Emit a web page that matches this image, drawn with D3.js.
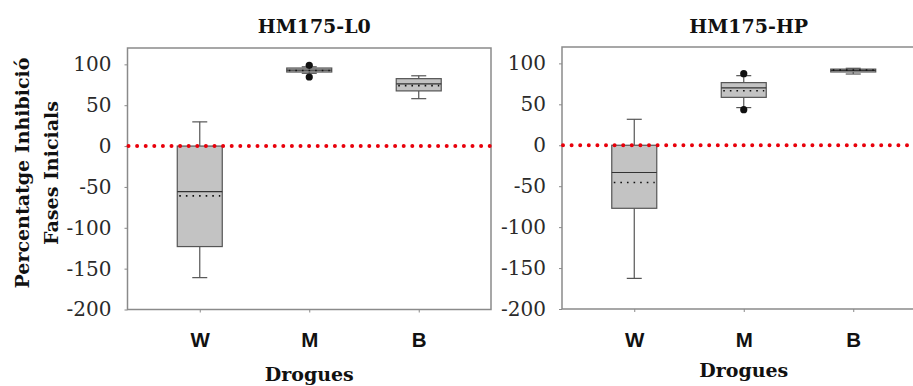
<!DOCTYPE html>
<html>
<head>
<meta charset="utf-8">
<script src="https://cdn.jsdelivr.net/npm/d3@7"></script>
<style>
html,body{margin:0;padding:0;background:#fff;}
svg{display:block;}
</style>
</head>
<body>
<script>
// ---- data ----
const categories = ["W", "M", "B"];
const panelTitles = ["HM175-L0", "HM175-HP"];
const yTicks = [100, 50, 0, -50, -100, -150, -200];
const yAxisTitle = ["Percentatge Inhibició", "Fases Inicials"];
const xAxisTitle = "Drogues";

// HM175-L0
const l0Q1 = [-123, 90.6, 67.5];
const l0Q3 = [0, 95.5, 82.5];
const l0Median = [-55.7, 93, 76];
const l0Mean = [-61, 92.5, 74];
const l0WhiskerLow = [-161, 89, 58];
const l0WhiskerHigh = [29.6, 97, 86];
const l0Outliers = [[], [98.8, 84.5], []];

// HM175-HP
const hpQ1 = [-77, 58.5, 89.5];
const hpQ3 = [0, 76.5, 93];
const hpMedian = [-33.3, 70, 91.5];
const hpMean = [-45.5, 66.5, 92];
const hpWhiskerLow = [-162.6, 46, 87];
const hpWhiskerHigh = [31.7, 85, 94];
const hpOutliers = [[], [87.4, 43.5], []];

const W = 913, H = 386;
const svg = d3.select("body").append("svg").attr("width", W).attr("height", H);

const serif = "'DejaVu Serif', serif";
const sans = "'Liberation Sans', Arial, sans-serif";

function drawPanel(opt) {
  const {x0, x1, y0, y1, title, q1, q3, med, mean, lo, hi, outl, dropY} = opt;
  const g = svg.append("g");
  const x = d3.scalePoint().domain(categories).range([x0, x1]).padding(0.66);
  const y = d3.scaleLinear().domain([-200, 120]).range([y1, y0]);

  // frame
  g.append("rect").attr("x", x0).attr("y", y0).attr("width", x1 - x0).attr("height", y1 - y0)
    .attr("fill", "none").attr("stroke", "#8a8a8a").attr("stroke-width", 1.5);

  // y axis
  const ya = g.append("g").attr("transform", `translate(${x0},0)`)
    .call(d3.axisLeft(y).tickValues(yTicks).tickSize(3).tickPadding(13).tickFormat(d3.format("d")));
  ya.select(".domain").remove();
  ya.selectAll(".tick line").attr("stroke", "#8a8a8a");
  ya.selectAll(".tick text").attr("font-family", serif).attr("font-size", 20).attr("fill", "#2a2a2a")
    .text(d => d < 0 ? "-" + Math.abs(d) : d);

  // x axis
  const xa = g.append("g").attr("transform", `translate(0,${y1})`)
    .call(d3.axisBottom(x).tickSize(3).tickPadding(20));
  xa.select(".domain").remove();
  xa.selectAll(".tick line").attr("stroke", "#8a8a8a");
  xa.selectAll(".tick text").attr("font-family", sans).attr("font-weight", "bold")
    .attr("font-size", 20.5).attr("fill", "#111");

  // title
  g.append("text").attr("x", x("M") + 5).attr("y", 33).attr("text-anchor", "middle")
    .attr("font-family", serif).attr("font-weight", "bold").attr("font-size", 19)
    .attr("fill", "#111").text(title);

  // x axis title
  g.append("text").attr("x", x("M")).attr("y", dropY).attr("text-anchor", "middle")
    .attr("font-family", serif).attr("font-weight", "bold").attr("font-size", 19)
    .attr("fill", "#111").text(xAxisTitle);

  const bw = 45, cw = 15;
  const boxes = g.append("g");
  categories.forEach((c, i) => {
    const cx = x(c);
    const bg = boxes.append("g");
    // whiskers
    bg.append("line").attr("x1", cx).attr("x2", cx).attr("y1", y(q3[i])).attr("y2", y(hi[i]))
      .attr("stroke", "#555").attr("stroke-width", 1.2);
    bg.append("line").attr("x1", cx).attr("x2", cx).attr("y1", y(q1[i])).attr("y2", y(lo[i]))
      .attr("stroke", "#555").attr("stroke-width", 1.2);
    [hi[i], lo[i]].forEach(v => {
      bg.append("line").attr("x1", cx - cw / 2).attr("x2", cx + cw / 2).attr("y1", y(v)).attr("y2", y(v))
        .attr("stroke", "#555").attr("stroke-width", 1.2);
    });
    // box
    bg.append("rect").attr("x", cx - bw / 2).attr("width", bw)
      .attr("y", y(q3[i])).attr("height", y(q1[i]) - y(q3[i]))
      .attr("fill", "#c3c3c3").attr("stroke", "#555").attr("stroke-width", 1.2);
    // median
    bg.append("line").attr("x1", cx - bw / 2).attr("x2", cx + bw / 2)
      .attr("y1", y(med[i])).attr("y2", y(med[i])).attr("stroke", "#333").attr("stroke-width", 1.2);
    // mean (dotted)
    bg.append("line").attr("x1", cx - bw / 2 + 2).attr("x2", cx + bw / 2 - 2)
      .attr("y1", y(mean[i])).attr("y2", y(mean[i])).attr("stroke", "#111").attr("stroke-width", 1.6)
      .attr("stroke-dasharray", "1.6 5");
    // outliers
    outl[i].forEach(v => {
      bg.append("circle").attr("cx", cx).attr("cy", y(v)).attr("r", 3.6).attr("fill", "#111");
    });
  });

  // red dotted zero line
  g.append("line").attr("x1", x0 + 1).attr("x2", x1 + 2).attr("y1", y(0)).attr("y2", y(0))
    .attr("stroke", "#e8000b").attr("stroke-width", 4).attr("stroke-linecap", "round")
    .attr("stroke-dasharray", "0 8.6");
}

drawPanel({x0: 127.5, x1: 491, y0: 48, y1: 309.5, title: panelTitles[0],
  q1: l0Q1, q3: l0Q3, med: l0Median, mean: l0Mean, lo: l0WhiskerLow, hi: l0WhiskerHigh, outl: l0Outliers, dropY: 381});
drawPanel({x0: 562, x1: 925.5, y0: 47, y1: 309, title: panelTitles[1],
  q1: hpQ1, q3: hpQ3, med: hpMedian, mean: hpMean, lo: hpWhiskerLow, hi: hpWhiskerHigh, outl: hpOutliers, dropY: 377});

// y axis title (two lines, rotated)
const yt = svg.append("text").attr("transform", "translate(0,173) rotate(-90)")
  .attr("text-anchor", "middle").attr("font-family", serif).attr("font-weight", "bold")
  .attr("font-size", 19).attr("fill", "#111");
yt.append("tspan").attr("x", 0).attr("y", 29).text(yAxisTitle[0]);
yt.append("tspan").attr("x", 0).attr("y", 58).text(yAxisTitle[1]);
</script>
</body>
</html>
